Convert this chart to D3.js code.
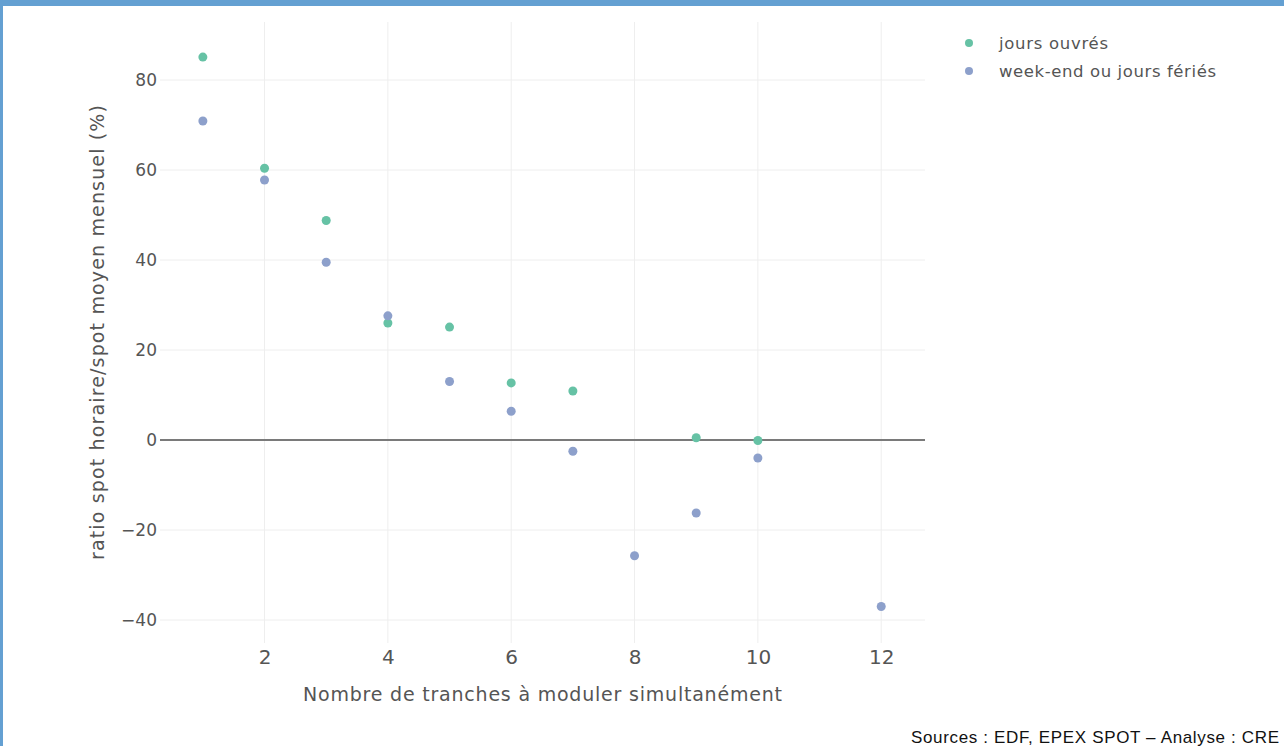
<!DOCTYPE html>
<html><head><meta charset="utf-8">
<script src="https://cdn.jsdelivr.net/npm/d3@7"></script>
<style>
html,body{margin:0;padding:0;background:#fff;overflow:hidden;}
svg{display:block;}
</style></head>
<body>
<svg id="chart" width="1284" height="746"></svg>
<script>
const xValues = [1,2,3,4,5,6,7,8,9,10,12];
const ouvres = [
  {x:1,y:85.1},{x:2,y:60.4},{x:3,y:48.8},{x:4,y:26.0},{x:5,y:25.1},
  {x:6,y:12.7},{x:7,y:10.9},{x:9,y:0.5},{x:10,y:-0.1}
];
const weekend = [
  {x:1,y:70.9},{x:2,y:57.8},{x:3,y:39.5},{x:4,y:27.6},{x:5,y:13.0},
  {x:6,y:6.4},{x:7,y:-2.5},{x:8,y:-25.7},{x:9,y:-16.2},{x:10,y:-4.0},{x:12,y:-37.0}
];
const xTicks = [2,4,6,8,10,12];
const yTicks = [-40,-20,0,20,40,60,80];
const seriesNames = ["jours ouvrés","week-end ou jours fériés"];
const colors = ["#66c2a5","#8da0cb"];

const FONT = "'DejaVu Sans', Verdana, sans-serif";
const svg = d3.select("#chart");
const m = {left:160, right:925, top:22, bottom:643};
const x = d3.scaleLinear().domain([0.305,12.71]).range([m.left,m.right]);
const y = d3.scaleLinear().domain([-45.1,92.9]).range([m.bottom,m.top]);

// border frame
svg.append("rect").attr("x",0).attr("y",0).attr("width",1284).attr("height",6).attr("fill","#64a0d2");
svg.append("rect").attr("x",0).attr("y",0).attr("width",3).attr("height",746).attr("fill","#64a0d2");

// gridlines
const g = svg.append("g");
g.selectAll(".vg").data(xTicks).join("line")
  .attr("x1",d=>x(d)).attr("x2",d=>x(d)).attr("y1",m.top).attr("y2",m.bottom)
  .attr("stroke","#eeeeee").attr("stroke-width",1);
g.selectAll(".hg").data(yTicks.filter(d=>d!==0)).join("line")
  .attr("x1",m.left).attr("x2",m.right).attr("y1",d=>y(d)).attr("y2",d=>y(d))
  .attr("stroke","#eeeeee").attr("stroke-width",1);
g.append("line").attr("x1",m.left).attr("x2",m.right).attr("y1",y(0)).attr("y2",y(0))
  .attr("stroke","#7a7a7a").attr("stroke-width",2);

// axes labels
const yAxis = d3.axisLeft(y).tickValues(yTicks).tickSize(0).tickPadding(3)
  .tickFormat(d=> d<0 ? "\u2212"+Math.abs(d) : d);
const ya = svg.append("g").attr("transform",`translate(${m.left},0)`).call(yAxis);
ya.select(".domain").remove();
ya.selectAll("text").attr("font-family",FONT).attr("font-size",17).attr("fill","#555");

const xAxis = d3.axisBottom(x).tickValues(xTicks).tickSize(0).tickPadding(7);
const xa = svg.append("g").attr("transform",`translate(0,${m.bottom})`).call(xAxis);
xa.select(".domain").remove();
xa.selectAll("text").attr("font-family",FONT).attr("font-size",20).attr("fill","#555");

svg.append("text").attr("x",303).attr("y",701)
  .attr("font-family",FONT).attr("font-size",19).attr("fill","#555")
  .attr("textLength",479).attr("lengthAdjust","spacing")
  .text("Nombre de tranches à moduler simultanément");
svg.append("text").attr("transform","translate(104,560) rotate(-90)")
  .attr("font-family",FONT).attr("font-size",19).attr("fill","#555")
  .attr("textLength",455).attr("lengthAdjust","spacing")
  .text("ratio spot horaire/spot moyen mensuel (%)");

// points
[ouvres, weekend].forEach((data,i)=>{
  svg.append("g").selectAll("circle").data(data).join("circle")
    .attr("cx",d=>x(d.x)).attr("cy",d=>y(d.y)).attr("r",4.5).attr("fill",colors[i]);
});

// legend
const legendLen = [109, 217];
const lg = svg.append("g");
seriesNames.forEach((n,i)=>{
  lg.append("circle").attr("cx",969).attr("cy",43+i*28).attr("r",4).attr("fill",colors[i]);
  lg.append("text").attr("x",999).attr("y",43+i*28+6)
    .attr("font-family",FONT).attr("font-size",16.5).attr("fill","#555")
    .attr("textLength",legendLen[i]).attr("lengthAdjust","spacing").text(n);
});

svg.append("text").attr("x",911).attr("y",743)
  .attr("font-family","'Liberation Sans', Arial, sans-serif").attr("font-size",17).attr("fill","#111")
  .attr("textLength",368).attr("lengthAdjust","spacing")
  .text("Sources : EDF, EPEX SPOT \u2013 Analyse : CRE");
</script>
</body></html>
